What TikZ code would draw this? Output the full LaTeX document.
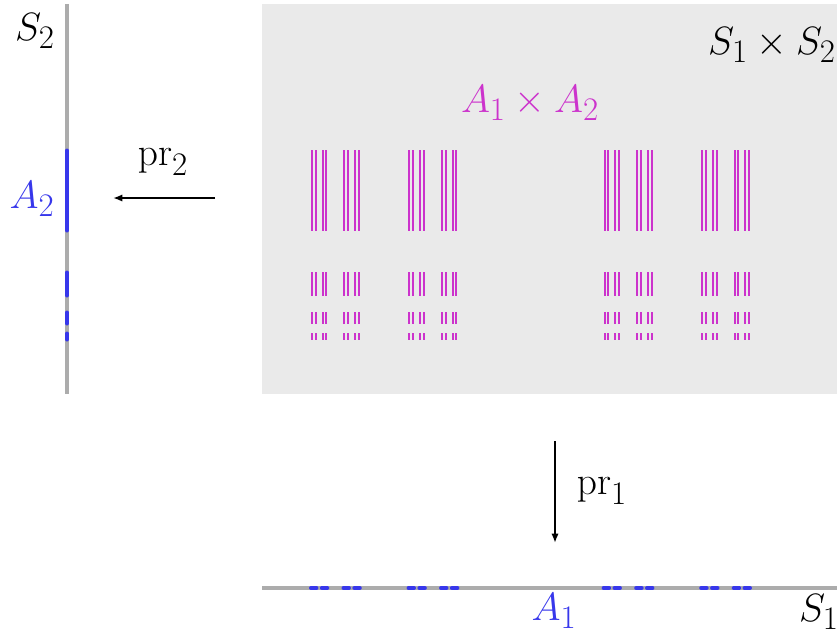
\documentclass[tikz,border=0pt]{standalone}
\usetikzlibrary{arrows.meta}
\definecolor{boxgray}{RGB}{234,234,234}
\definecolor{axisgray}{RGB}{172,172,172}
\definecolor{setblue}{RGB}{55,55,235}
\definecolor{setmag}{RGB}{204,51,204}
\tikzset{
  lbl/.style={inner sep=0pt, font=\fontsize{24.88}{30}\selectfont, scale=1.19, transform shape},
  axisline/.style={draw=axisgray, line width=2.4pt},
  blueset/.style={draw=setblue, line width=3pt, line cap=round},
  magset/.style={fill=setmag},
  maparrow/.style={draw=black, line width=1.7pt, -{Latex[length=7pt,width=5.5pt]}}
}
\begin{document}
\begin{tikzpicture}[x=0.75pt,y=-0.75pt]
\useasboundingbox (0,0) rectangle (837,635);
% product box
\fill[boxgray] (262,4) rectangle (837,394);
% axes
\coordinate (S2top) at (67,4);
\coordinate (S2bot) at (67,394);
\coordinate (S1left) at (262,588);
\coordinate (S1right) at (837,588);
\draw[axisline] (S2top) -- (S2bot);
\draw[axisline] (S1left) -- (S1right);
% A2 on S2
\foreach \ya/\yb in {150/231,272/296,312/324,333/340}{
  \draw[blueset] (67,\ya+0.5) -- (67,\yb-0.5);
}
% A1 on S1 (level-4 Cantor intervals)
\foreach \a in {0,1}{\foreach \b in {0,1}{\foreach \c in {0,1}{\foreach \d in {0,1}{
  \pgfmathsetmacro{\xl}{311+439*(2*\a/3+2*\b/9+2*\c/27+2*\d/81)}
  \draw[blueset] (\xl,588) -- ++(5.42,0);
}}}}
% A1 x A2 (level-5 Cantor intervals times A2)
\foreach \a in {0,1}{\foreach \b in {0,1}{\foreach \c in {0,1}{\foreach \d in {0,1}{\foreach \e in {0,1}{
  \pgfmathsetmacro{\xl}{311+439*(2*\a/3+2*\b/9+2*\c/27+2*\d/81+2*\e/243)}
  \foreach \ya/\yb in {150/231,272/296,312/324,333/340}{
    \fill[magset] (\xl-0.1,\ya) rectangle (\xl+1.9,\yb);
  }
}}}}}
% arrows
\coordinate (pr2from) at (215,198);
\coordinate (pr2to) at (113,198);
\coordinate (pr1from) at (555,441);
\coordinate (pr1to) at (555,543);
\draw[maparrow] (pr2from) -- (pr2to);
\draw[maparrow] (pr1from) -- (pr1to);
% labels
\node[lbl] (S2lab) at (35,31) {$S_2$};
\node[lbl, text=setblue] (A2lab) at (32,199) {$A_2$};
\node[lbl] (pr2lab) at (163,162) {$\mathrm{pr}_2$};
\node[lbl] (prodlab) at (772,45) {$S_1\times S_2$};
\node[lbl, text=setmag] (A12lab) at (530,103) {$A_1\times A_2$};
\node[lbl] (pr1lab) at (602,491) {$\mathrm{pr}_1$};
\node[lbl, text=setblue] (A1lab) at (554,611) {$A_1$};
\node[lbl] (S1lab) at (819,612) {$S_1$};
\end{tikzpicture}
\end{document}
